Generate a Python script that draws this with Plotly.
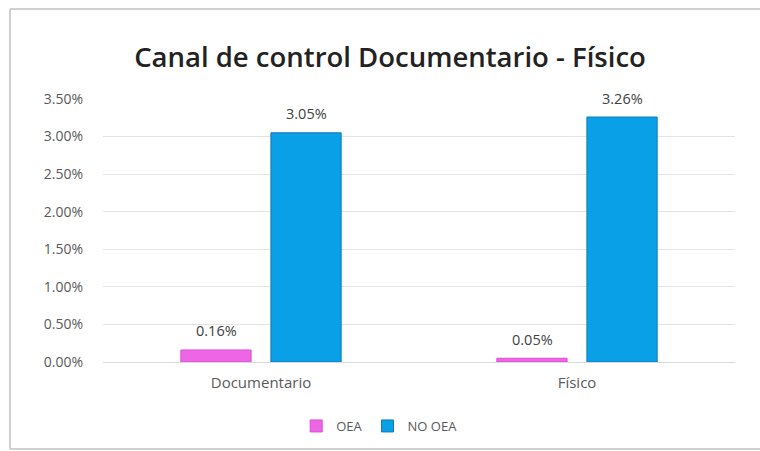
import plotly.graph_objects as go

categories = ["Documentario", "Físico"]
oea_values = [0.0016, 0.0005]
no_oea_values = [0.0305, 0.0326]
series_names = ["OEA", "NO OEA"]
tick_values = [0, 0.005, 0.01, 0.015, 0.02, 0.025, 0.03, 0.035]

font_family = "'Open Sans', Lato, sans-serif"

fig = go.Figure()
fig.add_trace(go.Bar(
    x=categories, y=oea_values, name=series_names[0],
    marker=dict(color="#EE66E6", line=dict(color="#D94FD2", width=1)),
))
fig.add_trace(go.Bar(
    x=categories, y=no_oea_values, name=series_names[1],
    marker=dict(color="#0AA0E8", line=dict(color="#0A7CB8", width=1)),
))

annotations = []
for vals, xs in ((oea_values, -45), (no_oea_values, 45)):
    for cat, v in zip(categories, vals):
        annotations.append(dict(
            x=cat, y=v, xref="x", yref="y", text=f"{v:.2%}", showarrow=False,
            xshift=xs, yshift=19, yanchor="middle",
            font=dict(size=14.5, color="#404040", family=font_family)))

W, H = 760, 451
frame = dict(color="#D0D0D0", width=2)
shapes = [
    dict(type="line", xref="paper", yref="paper", x0=-93/632, x1=1.2,
         y0=1 + 90/263, y1=1 + 90/263, line=frame, layer="below"),
    dict(type="line", xref="paper", yref="paper", x0=-93/632, x1=-93/632,
         y0=-87/263, y1=1 + 90/263, line=frame, layer="below"),
    dict(type="line", xref="paper", yref="paper", x0=-93/632, x1=1.2,
         y0=-87/263, y1=-87/263, line=frame, layer="below"),
]

fig.update_layout(
    width=W, height=H,
    margin=dict(l=103, r=25, t=99, b=89),
    paper_bgcolor="white", plot_bgcolor="white",
    barmode="group", bargap=0.43, bargroupgap=0.22,
    title=dict(text="Canal de control Documentario - Físico",
               x=390 / W, xanchor="center", y=1 - 57 / H, yanchor="middle",
               yref="container",
               font=dict(size=27.5, color="#222222", family=font_family, weight=600)),
    font=dict(family=font_family, color="#595959"),
    showlegend=True,
    legend=dict(orientation="h", x=0.437, xanchor="center",
                yref="container", y=1 - 426 / H, yanchor="middle",
                bgcolor="rgba(0,0,0,0)",
                font=dict(size=13, color="#595959"), itemwidth=30,
                traceorder="normal"),
    xaxis=dict(showgrid=False, showline=False, ticks="", ticklabelstandoff=10,
               tickfont=dict(size=15, color="#595959")),
    yaxis=dict(range=[0, 0.035], tickvals=tick_values, tickformat=".2%",
               showgrid=True, gridcolor="#E3E3E3", gridwidth=1,
               zeroline=True, zerolinecolor="#D9D9D9", zerolinewidth=1,
               showline=False, ticks="", ticklabelstandoff=19,
               tickfont=dict(size=14, color="#595959")),
    annotations=annotations,
    shapes=shapes,
)

fig.write_html(
    "out.html",
    config={"displayModeBar": False},
    post_script="document.body.style.margin='0';document.body.style.overflow='hidden';",
)
